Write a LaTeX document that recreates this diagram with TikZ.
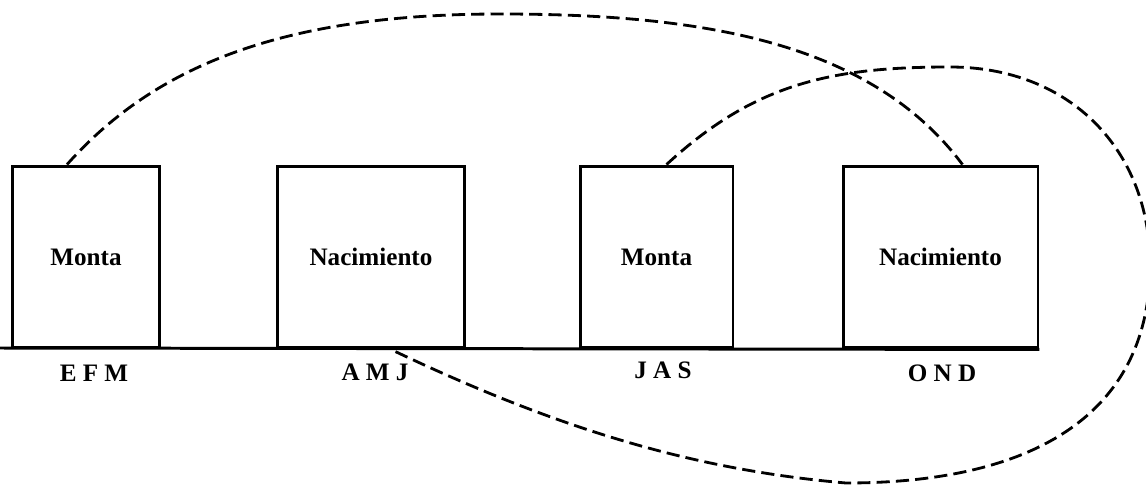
\documentclass[tikz,border=0pt]{standalone}
\usepackage{xcolor}
\usepackage{fontspec}
\setmainfont{Liberation Serif}
\usepackage{tikz}
\usetikzlibrary{calc}

\begin{document}
\begin{tikzpicture}[x=0.02cm,y=-0.02cm,
    season/.style={draw,line width=1.7pt,minimum height=3.64cm,inner sep=0pt,
        font=\fontsize{14.3}{17}\selectfont\bfseries},
    quarter/.style={font=\fontsize{14.3}{17}\selectfont\bfseries},
    cycle/.style={line width=1.6pt,dash pattern=on 7.5pt off 3.5pt}]
    \useasboundingbox (0,0) rectangle (1146,486);

    % Draw the boxes
    \node[season,minimum width=2.96cm] (m1) at (86,257) {Monta};
    \node[season,minimum width=3.76cm] (n1) at (371,257) {Nacimiento};
    \node[season,minimum width=3.06cm] (m2) at (656.5,257) {Monta};
    \node[season,minimum width=3.90cm] (n2) at (940.5,257) {Nacimiento};

    % Draw the base line
    \coordinate (start) at (0,348);
    \draw[line width=1.7pt] (start) -- (n2.south east);

    % Add the months
    \node[quarter] (efm) at (94,373) {E F M};
    \node[quarter] (amj) at (375,372) {A M J};
    \node[quarter] (jas) at (663,370) {J A S};
    \node[quarter] (ond) at (942,373) {O N D};

    % Draw the dashed loops
    \draw[cycle] ($(m1.north)+(-19,0)$) .. controls (154,67) and (280,14) .. (500,14)
        .. controls (700,14) and (870,41) .. ($(n2.north)+(22,0)$);
    \draw[cycle] ($(m2.north)+(10,0)$) .. controls (754,84) and (830,67) .. (950,67)
        .. controls (1070,67) and (1150,150) .. (1150,265)
        .. controls (1150,407) and (1044,483) .. (846,483)
        .. controls (696,470) and (560,430) .. ($(n1.south)+(20,0)$);
\end{tikzpicture}
\end{document}
